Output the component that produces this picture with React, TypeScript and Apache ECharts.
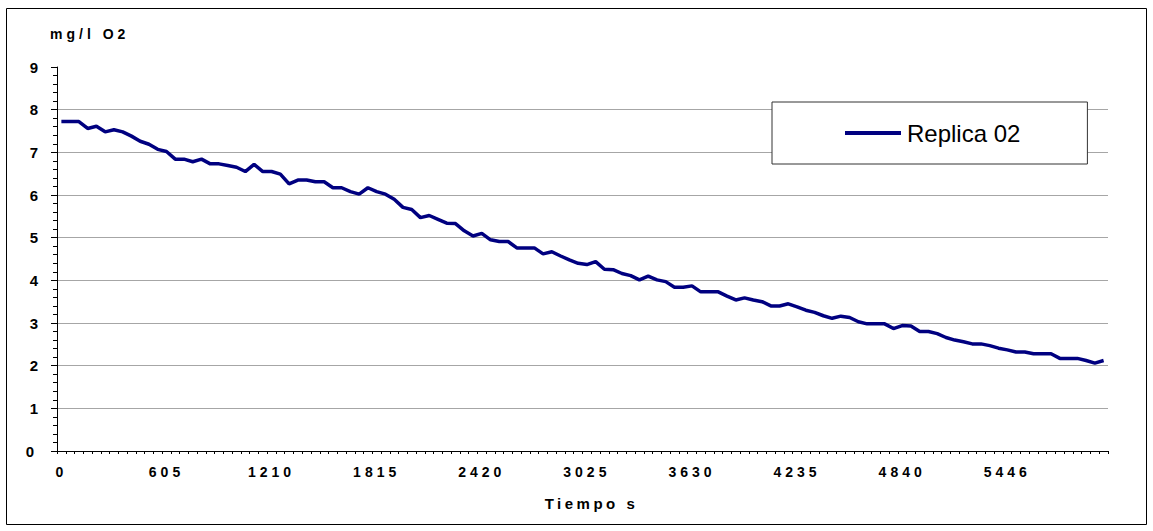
import React, { useEffect, useRef } from "react";
import * as echarts from "echarts";

// Dissolved oxygen (mg/l O2) over time, one reading per sample step
const tickLabels = ["0", "605", "1210", "1815", "2420", "3025", "3630", "4235", "4840", "5446"];

const replica02 = [
  7.72, 7.72, 7.72, 7.56, 7.61, 7.48, 7.53, 7.48, 7.38, 7.26,
  7.19, 7.07, 7.02, 6.84, 6.84, 6.78, 6.84, 6.73, 6.73, 6.69,
  6.65, 6.55, 6.72, 6.55, 6.55, 6.49, 6.26, 6.35, 6.35, 6.31,
  6.31, 6.17, 6.17, 6.08, 6.02, 6.17, 6.08, 6.02, 5.9, 5.71,
  5.66, 5.47, 5.52, 5.43, 5.34, 5.33, 5.16, 5.04, 5.1, 4.95,
  4.91, 4.91, 4.76, 4.76, 4.76, 4.62, 4.67, 4.57, 4.48, 4.4,
  4.37, 4.44, 4.26, 4.25, 4.16, 4.11, 4.01, 4.1, 4.01, 3.97,
  3.84, 3.84, 3.87, 3.73, 3.73, 3.73, 3.63, 3.54, 3.59, 3.54,
  3.5, 3.4, 3.4, 3.45, 3.38, 3.3, 3.25, 3.17, 3.11, 3.16,
  3.13, 3.03, 2.98, 2.98, 2.98, 2.87, 2.94, 2.93, 2.8, 2.8,
  2.75, 2.66, 2.6, 2.56, 2.51, 2.51, 2.47, 2.41, 2.37, 2.32,
  2.32, 2.28, 2.28, 2.28, 2.17, 2.17, 2.17, 2.12, 2.06, 2.12,
];

const labelEvery = 12;
const categories = replica02.map((_, i) =>
  i % labelEvery === 0 ? tickLabels[i / labelEvery] : String(Math.round((i * 605) / labelEvery))
);

const FONT = '"Liberation Sans", Arial, sans-serif';
const NAVY = "#000080";

export default function App() {
  const ref = useRef<HTMLDivElement>(null);

  useEffect(() => {
    if (!ref.current) return;
    const el = ref.current;
    const chart = echarts.init(el, undefined, { renderer: "svg" });

    chart.setOption({
      animation: false,
      backgroundColor: "#ffffff",
      grid: { left: 57, right: 45, top: 67, bottom: 80, containLabel: false },
      legend: {
        left: 772,
        top: 102,
        padding: [19, 67, 19, 73],
        icon: "rect",
        itemWidth: 56,
        itemHeight: 4,
        itemGap: 0,
        itemStyle: { color: NAVY },
        backgroundColor: "#ffffff",
        borderColor: "#333333",
        borderWidth: 1,
        textStyle: { fontFamily: FONT, fontSize: 24, color: "#000000", padding: [0, 0, 0, 1] },
        data: ["Replica 02"],
      },
      graphic: [
        {
          type: "rect",
          shape: { x: 6.5, y: 8.5, width: 1140, height: 516 },
          style: { fill: "none", stroke: "#000000", lineWidth: 1 },
          z: -1,
        },
        {
          type: "text",
          x: 50,
          y: 34,
          style: {
            text: "mg/l O2",
            fontFamily: FONT,
            fontSize: 14,
            fontWeight: "bold",
            fill: "#000000",
            verticalAlign: "middle",
          },
        },
      ],
      xAxis: {
        type: "category",
        data: categories,
        boundaryGap: true,
        name: "Tiempo s",
        nameLocation: "middle",
        nameGap: 45,
        nameTextStyle: {
          fontFamily: FONT,
          fontSize: 15,
          fontWeight: "bold",
          color: "#000000",
          padding: [0, 0, 0, 18],
        },
        axisLine: { lineStyle: { color: "#000000", width: 1 } },
        axisTick: { show: true, interval: 0, length: 3, lineStyle: { color: "#000000" } },
        axisLabel: {
          interval: labelEvery - 1,
          margin: 14,
          fontFamily: FONT,
          fontSize: 14,
          fontWeight: "bold",
          color: "#000000",
        },
        splitLine: { show: false },
      },
      yAxis: {
        type: "value",
        min: 0,
        max: 9,
        interval: 1,
        axisLine: { show: true, lineStyle: { color: "#000000", width: 1 } },
        axisTick: { show: true, length: 6, lineStyle: { color: "#000000", width: 1 } },
        minorTick: { show: true, splitNumber: 5, length: 4, lineStyle: { color: "#000000", width: 1 } },
        axisLabel: {
          margin: 19,
          fontFamily: FONT,
          fontSize: 15,
          fontWeight: "bold",
          color: "#000000",
        },
        splitLine: {
          show: true,
          showMinLine: false,
          showMaxLine: false,
          lineStyle: { color: "#a6a6a6", width: 1 },
        },
      },
      series: [
        {
          name: "Replica 02",
          type: "line",
          data: replica02,
          symbol: "none",
          showSymbol: false,
          lineStyle: { color: NAVY, width: 3.5 },
          itemStyle: { color: NAVY },
          z: 3,
        },
      ],
    });

    // Spaced-out lettering for the axis texts
    const spaced: Record<string, string> = { "mg/l O2": "4px", "Tiempo s": "3.5px" };
    tickLabels.forEach((t) => (spaced[t] = "4px"));
    const applySpacing = () => {
      el.querySelectorAll("text").forEach((t) => {
        const s = spaced[(t.textContent || "").trim()];
        if (s) t.setAttribute("letter-spacing", s);
      });
    };
    applySpacing();
    chart.on("finished", applySpacing);
    const timer = window.setTimeout(applySpacing, 50);

    return () => {
      window.clearTimeout(timer);
      chart.dispose();
    };
  }, []);

  return (
    <div
      ref={ref}
      style={{ position: "absolute", left: 0, top: 0, width: 1153, height: 531 }}
    />
  );
}
